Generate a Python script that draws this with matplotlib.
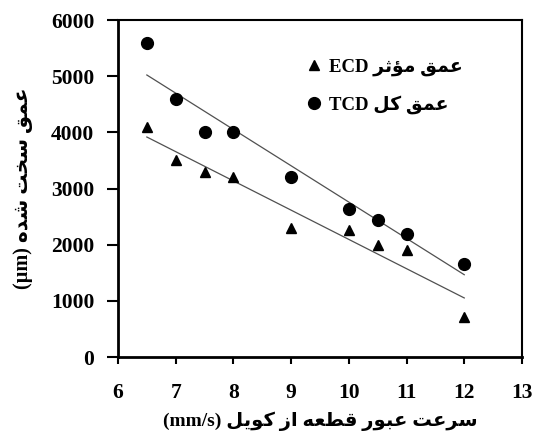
import numpy as np
import matplotlib
matplotlib.use("Agg")
import matplotlib.pyplot as plt
from matplotlib.lines import Line2D

# data
speed = [6.5, 7, 7.5, 8, 9, 10, 10.5, 11, 12]
tcd = [5600, 4600, 4000, 4000, 3200, 2630, 2440, 2200, 1660]
ecd = [4100, 3500, 3300, 3200, 2300, 2260, 2000, 1910, 710]
xticks = [6, 7, 8, 9, 10, 11, 12, 13]
yticks = [0, 1000, 2000, 3000, 4000, 5000, 6000]

# simple persian shaping (matplotlib has no complex text layout)
# char: (isolated, final, initial, medial)
FORMS = {
    'ا': ('\uFE8D', '\uFE8E', None, None),
    'ب': ('\uFE8F', '\uFE90', '\uFE91', '\uFE92'),
    'ت': ('\uFE95', '\uFE96', '\uFE97', '\uFE98'),
    'ث': ('\uFE99', '\uFE9A', '\uFE9B', '\uFE9C'),
    'خ': ('\uFEA5', '\uFEA6', '\uFEA7', '\uFEA8'),
    'د': ('\uFEA9', '\uFEAA', None, None),
    'ر': ('\uFEAD', '\uFEAE', None, None),
    'ز': ('\uFEAF', '\uFEB0', None, None),
    'س': ('\uFEB1', '\uFEB2', '\uFEB3', '\uFEB4'),
    'ش': ('\uFEB5', '\uFEB6', '\uFEB7', '\uFEB8'),
    'ط': ('\uFEC1', '\uFEC2', '\uFEC3', '\uFEC4'),
    'ع': ('\uFEC9', '\uFECA', '\uFECB', '\uFECC'),
    'ق': ('\uFED5', '\uFED6', '\uFED7', '\uFED8'),
    'ل': ('\uFEDD', '\uFEDE', '\uFEDF', '\uFEE0'),
    'م': ('\uFEE1', '\uFEE2', '\uFEE3', '\uFEE4'),
    'ه': ('\uFEE9', '\uFEEA', '\uFEEB', '\uFEEC'),
    'و': ('\uFEED', '\uFEEE', None, None),
    'ؤ': ('\uFE85', '\uFE86', None, None),
    'ک': ('\uFB8E', '\uFB8F', '\uFB90', '\uFB91'),
    'ی': ('\uFBFC', '\uFBFD', '\uFBFE', '\uFBFF'),
}


def fa(text):
    out = []
    for i, ch in enumerate(text):
        if ch not in FORMS:
            out.append(ch)
            continue
        prev = text[i - 1] if i > 0 else ''
        nxt = text[i + 1] if i + 1 < len(text) else ''
        join_prev = prev in FORMS and FORMS[prev][2] is not None
        join_next = nxt in FORMS and FORMS[ch][2] is not None
        iso, fin, ini, med = FORMS[ch]
        if join_prev and join_next:
            out.append(med)
        elif join_prev:
            out.append(fin)
        elif join_next:
            out.append(ini)
        else:
            out.append(iso)
    return ''.join(out)[::-1]


fam = ['Liberation Serif', 'DejaVu Sans']
plt.rcParams['font.family'] = fam

fig = plt.figure(figsize=(5.37, 4.36), dpi=100)
ax = fig.add_axes([0.2197, 0.181, 0.7523, 0.773])

ax.plot(speed, tcd, 'o', color='black', markersize=8.5, zorder=3)
ax.plot(speed, ecd, '^', color='black', markersize=7, zorder=3)

# linear trend lines
for ys in (tcd, ecd):
    k, b = np.polyfit(speed, ys, 1)
    xs = np.array([speed[0], speed[-1]])
    ax.plot(xs, k * xs + b, color='#505050', lw=0.9, zorder=2)

ax.set_xlim(6, 13)
ax.set_ylim(0, 6000)
ax.set_xticks(xticks)
ax.set_yticks(yticks)
ax.tick_params(axis='x', direction='out', length=5, width=1.5, pad=14)
ax.tick_params(axis='y', direction='out', length=8, width=1.5, pad=9)
for lab in ax.get_xticklabels() + ax.get_yticklabels():
    lab.set_fontweight('bold')
    lab.set_fontsize(15.5)
for side in ('left', 'bottom'):
    ax.spines[side].set_linewidth(2)
for side in ('top', 'right'):
    ax.spines[side].set_linewidth(1.5)

ax.set_xlabel('(mm/s) ' + fa('سرعت عبور قطعه از کویل'), fontsize=14,
              fontweight='bold', labelpad=6)
ax.set_ylabel('(µm) ' + fa('عمق سخت شده'), fontsize=14.5,
              fontweight='bold', labelpad=13)

handles = [Line2D([], [], ls='none', marker='^', color='black', markersize=7),
           Line2D([], [], ls='none', marker='o', color='black', markersize=8.5)]
labels = ['ECD ' + fa('عمق مؤثر'), 'TCD ' + fa('عمق کل')]
ax.legend(handles, labels, loc='upper left', bbox_to_anchor=(0.43, 0.935),
          frameon=False, handlelength=0.6, handletextpad=0.5, labelspacing=1.0,
          prop={'family': fam, 'weight': 'bold', 'size': 13.5})

fig.savefig('out.png', dpi=100)
